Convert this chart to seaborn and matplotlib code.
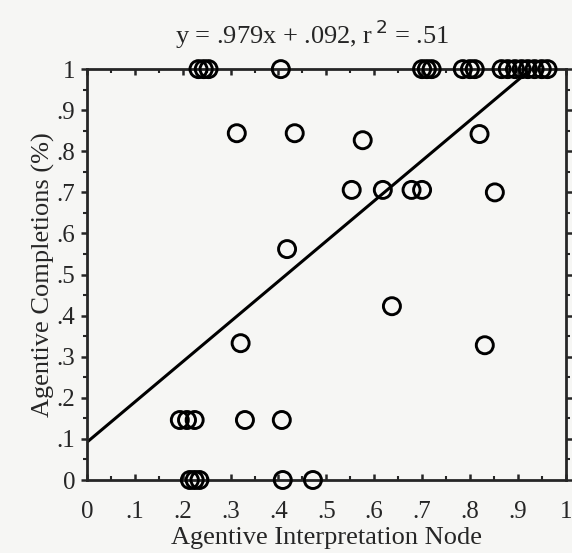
import numpy as np
import pandas as pd
import matplotlib
matplotlib.use("Agg")
import matplotlib.pyplot as plt
import seaborn as sns

sns.set_style("ticks")
plt.rcParams['font.family'] = ['Liberation Serif', 'DejaVu Serif']

# points
interp = [0.233, 0.244, 0.254, 0.405, 0.70, 0.71, 0.72, 0.785, 0.80, 0.81,
          0.866, 0.879, 0.894, 0.908, 0.921, 0.935, 0.95, 0.962,
          0.313, 0.434, 0.576, 0.82,
          0.553, 0.618, 0.678, 0.70, 0.852,
          0.418, 0.637, 0.321, 0.831,
          0.194, 0.209, 0.225, 0.33, 0.407,
          0.215, 0.225, 0.235, 0.409, 0.472]
compl = [1, 1, 1, 1, 1, 1, 1, 1, 1, 1,
         1, 1, 1, 1, 1, 1, 1, 1,
         0.844, 0.844, 0.827, 0.842,
         0.706, 0.706, 0.706, 0.706, 0.70,
         0.562, 0.423, 0.333, 0.328,
         0.146, 0.146, 0.146, 0.146, 0.146,
         0, 0, 0, 0, 0]
slope, icpt = 0.979, 0.092
tick_vals = np.arange(0, 1.01, 0.1)
tick_txt = ['0', '.1', '.2', '.3', '.4', '.5', '.6', '.7', '.8', '.9', '1']

df = pd.DataFrame({'x': interp, 'y': compl})

fig = plt.figure(figsize=(5.72, 5.53), dpi=100)
fig.patch.set_facecolor('#f6f6f4')
ax = fig.add_axes([0.152, 0.132, 0.837, 0.743])
ax.set_facecolor('#f6f6f4')

# regression line, stops where it hits 1
x_end = (1 - icpt) / slope
fx = np.array([0, x_end])
sns.lineplot(x=fx, y=slope * fx + icpt, ax=ax, color='black', lw=2.2)

sns.scatterplot(data=df, x='x', y='y', ax=ax, marker='o', s=150,
                facecolor='none', edgecolor='black', linewidth=2.1,
                clip_on=False, zorder=5)

ax.set_xlim(0, 1)
ax.set_ylim(0, 1)
ax.set_xticks(tick_vals)
ax.set_xticklabels(tick_txt)
ax.set_yticks(tick_vals)
ax.set_yticklabels(tick_txt)
ax.set_xticks(np.arange(0.05, 1, 0.1), minor=True)
ax.set_yticks(np.arange(0.05, 1, 0.1), minor=True)

for s in ax.spines.values():
    s.set_visible(True)
    s.set_linewidth(2)
ax.tick_params(axis='both', which='major', labelsize=18, width=1.8, length=4.5,
               top=True, right=True, direction='out')
ax.tick_params(axis='both', which='minor', width=1.5, length=3,
               top=True, right=True, direction='out')
ax.tick_params(axis='x', which='both', bottom=True, direction='in', pad=15)
ax.tick_params(axis='x', which='both', labeltop=False)
ax.tick_params(axis='y', which='both', labelright=False, pad=4)

ax.set_xlabel('Agentive Interpretation Node', fontsize=19, labelpad=3)
ax.set_ylabel('Agentive Completions (%)', fontsize=19, labelpad=1)
ax.text(0.47, 1.045, 'y = .979x + .092, r$^{\\,2}$ = .51', fontsize=19,
        ha='center', va='bottom', transform=ax.transAxes)

fig.savefig('out.png', dpi=100, facecolor=fig.get_facecolor())
